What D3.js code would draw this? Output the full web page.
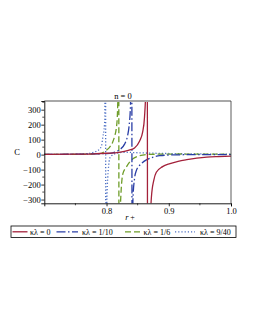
<!DOCTYPE html>
<html><head><meta charset="utf-8">
<script src="https://cdn.jsdelivr.net/npm/d3@7/dist/d3.min.js"></script>
<style>
body{margin:0;background:#fff;}
svg{display:block;}
text{font-family:"Liberation Serif","Times New Roman",serif;fill:#000;}
</style></head>
<body>
<script>
// ---- data ----
const xTicks = [0.8, 0.9, 1.0];
const xTickLabels = ["0.8", "0.9", "1.0"];
const yTicks = [-300, -200, -100, 0, 100, 200, 300];
const yTickLabels = ["\u2212300", "\u2212200", "\u2212100", "0", "100", "200", "300"];
const title = "n = 0";
const xLabel = "r";
const yLabel = "C";
const seriesNames = ["\u03BA\u03BB = 0", "\u03BA\u03BB = 1/10", "\u03BA\u03BB = 1/6", "\u03BA\u03BB = 9/40"];

// r+ , C pairs for each curve (both branches, across the pole)
const r0 = [0.70,0.75,0.78,0.80,0.82,0.835,0.845,0.853,0.858,0.861,0.8635,0.8650,0.8664,0.869,0.872,0.876,0.880,0.890,0.902,0.915,0.929,0.945,0.961,0.98,1.00];
const c0 = [1,3,5,9,15,28,45,90,150,250,500,2500,-2500,-700,-290,-170,-118,-80,-60,-45,-34,-24,-17,-13,-10];

const r1 = [0.70,0.75,0.78,0.80,0.81,0.82,0.829,0.834,0.836,0.8385,0.8400,0.8416,0.8424,0.845,0.848,0.852,0.856,0.864,0.8747,0.8855,0.906,0.95,1.00];
const c1 = [1,3,5,7,12,30,70,130,182,330,2500,-2500,-300,-160,-105,-78,-60,-35,-17,-7,-2,0,0];

const r2 = [0.70,0.75,0.77,0.7887,0.7995,0.8048,0.8095,0.8129,0.8155,0.8173,0.8185,0.8192,0.8204,0.8226,0.8263,0.8318,0.837,0.8424,0.8532,0.8694,0.918,1.00];
const c2 = [1,2,3,6,29,49,80,121,170,250,500,2500,-2500,-313,-127,-83,-50,-28,-7,2,4,2];

const r3 = [0.70,0.75,0.7726,0.781,0.7887,0.792,0.794,0.7968,0.7978,0.7982,0.7990,0.8005,0.802,0.8035,0.8048,0.8076,0.8129,0.82,0.8263,0.853,0.918,1.00];
const c3 = [1,3,9,18,37,60,115,202,500,2500,-2500,-313,-150,-70,-28,-10,5,12,16,12,6,3];

const colors = ["#a3213a", "#2a3ea6", "#6f9d2a", "#4c6fc4"];
const dashes = [null, "9,2.5,1.5,2.5", "6,3", "1.2,2"];

// ---- drawing ----
const W = 255, H = 330;
const L = 44.3, R = 231, T = 101, B = 203.3;
const svg = d3.select("body").append("svg").attr("width", W).attr("height", H);

const x = d3.scaleLinear().domain([0.7, 1.0]).range([L, R]);
const y = d3.scaleLinear().domain([-325, 358]).range([B, T]);

svg.append("clipPath").attr("id","clip").append("rect")
  .attr("x", L).attr("y", T).attr("width", R-L).attr("height", B-T);

const allR = [r0, r1, r2, r3], allC = [c0, c1, c2, c3];
const line = d3.line().x(d => x(d[0])).y(d => y(d[1])).curve(d3.curveMonotoneX);
const g = svg.append("g").attr("clip-path", "url(#clip)");
[3,2,1,0].forEach(i => {
  const pts = allR[i].map((r, k) => [r, allC[i][k]]);
  g.append("path").attr("d", line(pts))
    .attr("fill","none").attr("stroke", colors[i]).attr("stroke-width", 1.3)
    .attr("stroke-dasharray", dashes[i]);
});

// frame
svg.append("line").attr("x1", L).attr("x2", R).attr("y1", T).attr("y2", T)
  .attr("stroke", "#a8a8a8").attr("stroke-width", 2);
svg.append("line").attr("x1", R).attr("x2", R).attr("y1", T).attr("y2", B)
  .attr("stroke", "#333").attr("stroke-width", 0.8);

// axes
const xAxis = d3.axisBottom(x).tickValues(xTicks).tickFormat((d,i) => xTickLabels[i]).tickSizeOuter(0).tickSize(3);
const gx = svg.append("g").attr("transform", `translate(0,${B})`).call(xAxis);
const yAxis = d3.axisLeft(y).tickValues(yTicks).tickFormat((d,i) => yTickLabels[i]).tickSizeOuter(0).tickSize(3);
const gy = svg.append("g").attr("transform", `translate(${L},0)`).call(yAxis);
[gx, gy].forEach(a => {
  a.select(".domain").attr("stroke", "#000").attr("stroke-width", 0.9);
  a.selectAll(".tick line").attr("stroke", "#000").attr("stroke-width", 0.8);
  a.selectAll("text").style("font-family", '"Liberation Serif", serif').style("font-size", "8.5px");
});
gx.selectAll("text").attr("dy", "0.75em").attr("y", 4);
gy.selectAll("text").attr("x", -3.5);
// minor ticks
svg.append("g").selectAll("line").data([0.75, 0.85, 0.95]).join("line")
  .attr("x1", d => x(d)).attr("x2", d => x(d)).attr("y1", B).attr("y2", B+2)
  .attr("stroke", "#000").attr("stroke-width", 0.7);
svg.append("g").selectAll("line").data([-250,-150,-50,50,150,250,350]).join("line")
  .attr("x1", L-2).attr("x2", L).attr("y1", d => y(d)).attr("y2", d => y(d))
  .attr("stroke", "#000").attr("stroke-width", 0.7);

// labels
svg.append("text").attr("x", 123).attr("y", 99).attr("text-anchor", "middle")
  .style("font-size", "8.5px").text(title);
svg.append("text").attr("x", 17).attr("y", 155).attr("text-anchor", "middle")
  .style("font-size", "8.5px").text(yLabel);
const xl = svg.append("text").attr("x", 130).attr("y", 220).attr("text-anchor", "middle")
  .style("font-size", "8.5px");
xl.append("tspan").style("font-style", "italic").text(xLabel);
xl.append("tspan").attr("dx", 1.5).style("font-size", "8px").text("+");

// legend
svg.append("rect").attr("x", 11).attr("y", 226).attr("width", 225).attr("height", 11.5)
  .attr("fill", "#fff").attr("stroke", "#000").attr("stroke-width", 0.8);
const legLine = [[12.5, 27.5], [56.5, 78], [125, 140.5], [175, 195]];
const legText = [30, 82, 143.5, 200];
seriesNames.forEach((n, i) => {
  svg.append("line").attr("x1", legLine[i][0]).attr("x2", legLine[i][1])
    .attr("y1", 231.8).attr("y2", 231.8)
    .attr("stroke", colors[i]).attr("stroke-width", 1.3).attr("stroke-dasharray", dashes[i]);
  svg.append("text").attr("x", legText[i]).attr("y", 234.6)
    .style("font-size", "8px").text(n);
});
</script>
</body></html>
